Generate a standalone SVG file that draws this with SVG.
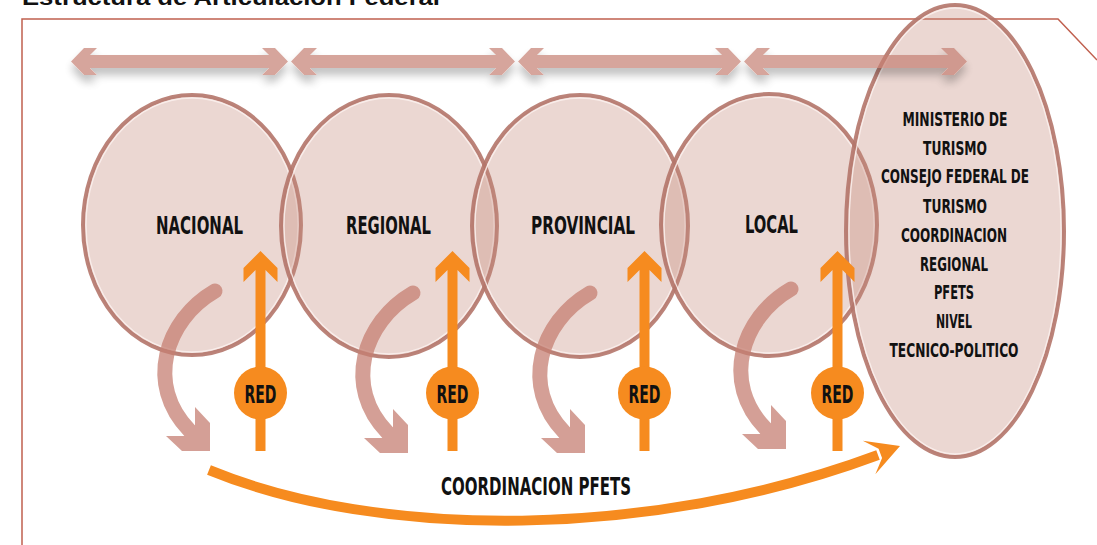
<svg xmlns="http://www.w3.org/2000/svg" width="1097" height="545" viewBox="0 0 1097 545">
<defs>
<style>
.bub{fill:rgb(198,141,126);fill-opacity:.35;stroke:#B4756A;stroke-opacity:.9;stroke-width:4}
.hl{fill:none;stroke:#FBF1EE;stroke-opacity:.85;stroke-width:1.3}
.lbl{font-family:"DejaVu Sans Condensed","DejaVu Sans",sans-serif;font-weight:bold;font-stretch:condensed;fill:#111;text-anchor:middle}
.org{fill:#F68B1F}
.pink{fill:#C68073}
.frame{fill:none;stroke:#C0604F;stroke-width:1.5}
</style>
<filter id="sh" x="-5%" y="-80%" width="110%" height="300%">
<feGaussianBlur in="SourceAlpha" stdDeviation="4"/>
<feOffset dy="7" result="b"/>
<feFlood flood-color="#000" flood-opacity="0.35"/>
<feComposite in2="b" operator="in" result="s"/>
<feComposite in="s" in2="SourceAlpha" operator="out" result="s2"/>
<feMerge><feMergeNode in="s2"/><feMergeNode in="SourceGraphic"/></feMerge>
</filter>
<g id="curl" opacity="0.75">
<path d="M5 -160 C-45 -131 -65 -66 -20.5 -20.5" fill="none" stroke="#C68073" stroke-width="15" stroke-linecap="round"/>
<polygon class="pink" points="0,0 -28,0 -44,-15 -26,-15 -15,-26 -15,-44 0,-28"/>
</g>
<polygon id="up" class="org" points="0,0 17,17 17,31 5,19 5,200 -5,200 -5,19 -17,31 -17,17"/>
</defs>

<rect width="1097" height="545" fill="#fff"/>
<text x="22" y="5" font-family="Liberation Sans, Arial, sans-serif" font-weight="bold" font-size="22" fill="#111" textLength="418" lengthAdjust="spacingAndGlyphs">Estructura de Articulación Federal</text>
<path class="frame" d="M22 545 L22 19 L1058 19 L1097 60"/>

<g id="nacional">
<ellipse class="bub" cx="192" cy="225" rx="109" ry="130"/>
<ellipse class="hl" cx="192" cy="225" rx="106" ry="127"/>
<text class="lbl" x="199.5" y="234" font-size="25" textLength="87" lengthAdjust="spacingAndGlyphs">NACIONAL</text>
</g>
<g id="regional">
<ellipse class="bub" cx="389" cy="226" rx="108" ry="131"/>
<ellipse class="hl" cx="389" cy="226" rx="105" ry="128"/>
<text class="lbl" x="388.5" y="234" font-size="25" textLength="85" lengthAdjust="spacingAndGlyphs">REGIONAL</text>
</g>
<g id="provincial">
<ellipse class="bub" cx="580" cy="226" rx="108" ry="131"/>
<ellipse class="hl" cx="580" cy="226" rx="105" ry="128"/>
<text class="lbl" x="583" y="234" font-size="25" textLength="104" lengthAdjust="spacingAndGlyphs">PROVINCIAL</text>
</g>
<g id="local">
<ellipse class="bub" cx="769" cy="225" rx="108" ry="131"/>
<ellipse class="hl" cx="769" cy="225" rx="105" ry="128"/>
<text class="lbl" x="771.5" y="233" font-size="25" textLength="53" lengthAdjust="spacingAndGlyphs">LOCAL</text>
</g>
<g id="ministerio">
<ellipse class="bub" cx="955" cy="231" rx="109" ry="226"/>
<ellipse class="hl" cx="955" cy="231" rx="106" ry="223"/>
<g class="lbl" font-size="19">
<text x="955" y="126" textLength="105" lengthAdjust="spacingAndGlyphs">MINISTERIO DE</text>
<text x="955" y="155" textLength="64" lengthAdjust="spacingAndGlyphs">TURISMO</text>
<text x="955" y="183" textLength="148" lengthAdjust="spacingAndGlyphs">CONSEJO FEDERAL DE</text>
<text x="955" y="213" textLength="64" lengthAdjust="spacingAndGlyphs">TURISMO</text>
<text x="954" y="242" textLength="106" lengthAdjust="spacingAndGlyphs">COORDINACION</text>
<text x="954" y="271" textLength="68" lengthAdjust="spacingAndGlyphs">REGIONAL</text>
<text x="954" y="299" textLength="40" lengthAdjust="spacingAndGlyphs">PFETS</text>
<text x="954" y="328" textLength="36" lengthAdjust="spacingAndGlyphs">NIVEL</text>
<text x="954" y="357" textLength="129" lengthAdjust="spacingAndGlyphs">TECNICO-POLITICO</text>
</g>
</g>

<g id="connectors">
<g id="top-arrows" filter="url(#sh)" opacity="0.7" class="pink">
<path d="M71 61.5 L84 48 L97 48 L90 55 L269 55 L262 48 L275 48 L288 61.5 L275 75 L262 75 L269 68 L90 68 L97 75 L84 75 Z"/>
<path d="M291 61.5 L304 48 L317 48 L310 55 L496 55 L489 48 L502 48 L515 61.5 L502 75 L489 75 L496 68 L310 68 L317 75 L304 75 Z"/>
<path d="M518 61.5 L531 48 L544 48 L537 55 L722 55 L715 48 L728 48 L741 61.5 L728 75 L715 75 L722 68 L537 68 L544 75 L531 75 Z"/>
<path d="M744 61.5 L757 48 L770 48 L763 55 L948 55 L941 48 L954 48 L967 61.5 L954 75 L941 75 L948 68 L763 68 L770 75 L757 75 Z"/>
</g>
<use href="#curl" transform="translate(210,451)"/>
<use href="#curl" transform="translate(408,453)"/>
<use href="#curl" transform="translate(585,453)"/>
<use href="#curl" transform="translate(786,449)"/>
<use href="#up" transform="translate(260.5,251)"/>
<use href="#up" transform="translate(452.5,251)"/>
<use href="#up" transform="translate(644.5,251)"/>
<use href="#up" transform="translate(837.5,251)"/>
<path d="M209 470 C380 540 650 540 878 455" fill="none" stroke="#F68B1F" stroke-width="10"/>
<polygon class="org" transform="translate(900,446) rotate(-20.4)" points="0,0 -33,-18 -21,-5 -21,5 -33,18"/>
</g>

<g id="red1"><circle class="org" cx="260.5" cy="393" r="26.5"/><text class="lbl" x="260.5" y="403" font-size="25" textLength="32" lengthAdjust="spacingAndGlyphs">RED</text></g>
<g id="red2"><circle class="org" cx="452.5" cy="393" r="26.5"/><text class="lbl" x="452.5" y="403" font-size="25" textLength="32" lengthAdjust="spacingAndGlyphs">RED</text></g>
<g id="red3"><circle class="org" cx="644.5" cy="393" r="26.5"/><text class="lbl" x="644.5" y="403" font-size="25" textLength="32" lengthAdjust="spacingAndGlyphs">RED</text></g>
<g id="red4"><circle class="org" cx="837.5" cy="393" r="26.5"/><text class="lbl" x="837.5" y="403" font-size="25" textLength="32" lengthAdjust="spacingAndGlyphs">RED</text></g>

<g id="coordinacion-pfets">
<text class="lbl" x="536" y="495" font-size="25" textLength="190" lengthAdjust="spacingAndGlyphs">COORDINACION PFETS</text>
</g>
</svg>
